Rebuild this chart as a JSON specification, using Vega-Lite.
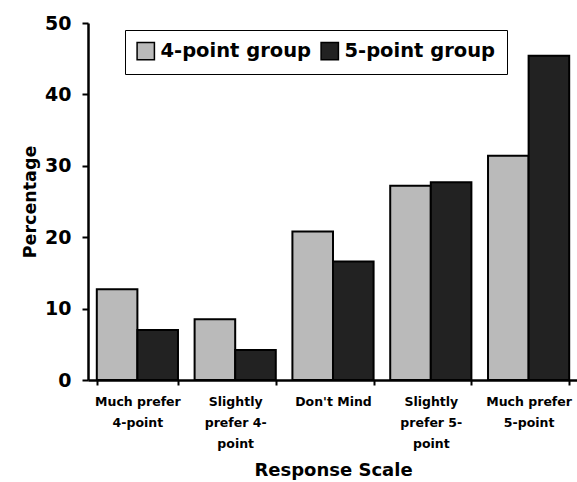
{
  "$schema": "https://vega.github.io/schema/vega-lite/v6.json",
  "width": 490,
  "height": 357,
  "autosize": {"type": "none"},
  "padding": {"left": 88, "top": 23, "right": 0, "bottom": 102},
  "background": "white",
  "config": {
    "view": {"stroke": null},
    "font": "DejaVu Sans"
  },
  "data": {
    "values": [
      {"response": "Much prefer 4-point", "group": "4-point group", "pct": 12.7},
      {"response": "Much prefer 4-point", "group": "5-point group", "pct": 7.0},
      {"response": "Slightly prefer 4-point", "group": "4-point group", "pct": 8.5},
      {"response": "Slightly prefer 4-point", "group": "5-point group", "pct": 4.2},
      {"response": "Don't Mind", "group": "4-point group", "pct": 20.8},
      {"response": "Don't Mind", "group": "5-point group", "pct": 16.6},
      {"response": "Slightly prefer 5-point", "group": "4-point group", "pct": 27.2},
      {"response": "Slightly prefer 5-point", "group": "5-point group", "pct": 27.7},
      {"response": "Much prefer 5-point", "group": "4-point group", "pct": 31.4},
      {"response": "Much prefer 5-point", "group": "5-point group", "pct": 45.4}
    ]
  },
  "mark": {"type": "bar", "stroke": "black", "strokeWidth": 2},
  "encoding": {
    "x": {
      "field": "response",
      "type": "nominal",
      "sort": null,
      "scale": {"paddingInner": 0.17, "paddingOuter": 0.09},
      "axis": {
        "title": "Response Scale",
        "titleFontSize": 18,
        "titleFontWeight": "bold",
        "titlePadding": 12,
        "labelAngle": 0,
        "labelFontSize": 12.5,
        "labelFontWeight": "bold",
        "labelColor": "black",
        "labelLineHeight": 21,
        "labelPadding": 10,
        "tickBand": "extent",
        "tickSize": 5,
        "tickColor": "black",
        "tickWidth": 2,
        "domainColor": "black",
        "domainWidth": 2.5,
        "labelExpr": "datum.label == 'Much prefer 4-point' ? ['Much prefer', '4-point'] : datum.label == 'Slightly prefer 4-point' ? ['Slightly', 'prefer 4-', 'point'] : datum.label == 'Slightly prefer 5-point' ? ['Slightly', 'prefer 5-', 'point'] : datum.label == 'Much prefer 5-point' ? ['Much prefer', '5-point'] : datum.label"
      }
    },
    "xOffset": {
      "field": "group",
      "type": "nominal",
      "scale": {"paddingInner": 0, "paddingOuter": 0}
    },
    "y": {
      "field": "pct",
      "type": "quantitative",
      "scale": {"domain": [0, 50], "nice": false},
      "axis": {
        "title": "Percentage",
        "titleFontSize": 17.5,
        "titleFontWeight": "bold",
        "titlePadding": 5,
        "values": [0, 10, 20, 30, 40, 50],
        "grid": false,
        "labelFontSize": 19,
        "labelFontWeight": "bold",
        "labelColor": "black",
        "labelPadding": 11,
        "tickSize": 6,
        "tickColor": "black",
        "tickWidth": 2,
        "domainColor": "black",
        "domainWidth": 2.5
      }
    },
    "fill": {
      "field": "group",
      "type": "nominal",
      "scale": {"domain": ["4-point group", "5-point group"], "range": ["#bababa", "#222222"]},
      "legend": {
        "title": null,
        "orient": "none",
        "legendX": 37,
        "legendY": 7,
        "direction": "horizontal",
        "columns": 2,
        "fillColor": "white",
        "strokeColor": "black",
        "padding": 11,
        "symbolType": "square",
        "symbolSize": 300,
        "symbolStrokeColor": "black",
        "symbolStrokeWidth": 1.5,
        "symbolOpacity": 1,
        "labelFontSize": 19.5,
        "labelFontWeight": "bold",
        "labelColor": "black",
        "labelOffset": 5,
        "columnPadding": 6
      }
    }
  }
}
